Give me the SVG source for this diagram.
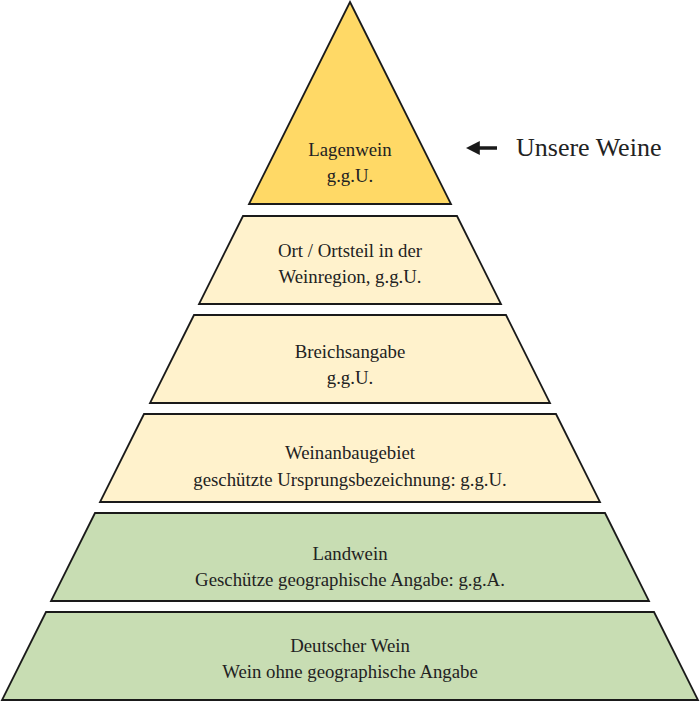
<svg xmlns="http://www.w3.org/2000/svg" width="700" height="703" viewBox="0 0 700 703">
<style>
.lvl{stroke:#1a1a1a;stroke-width:1.8;stroke-linejoin:miter}
.gold{fill:#FFD966}
.cream{fill:#FFF2CC}
.green{fill:#C8DDB3}
text{font-family:"Liberation Serif","Times New Roman",serif;font-size:18.8px;fill:#222;text-anchor:middle}
.note{font-size:26px;text-anchor:start}
</style>
<defs>
<marker id="ah" viewBox="0 0 10 10" refX="2" refY="5" markerWidth="4" markerHeight="4.4" orient="auto-start-reverse" markerUnits="strokeWidth">
<path d="M0,0 L10,5 L0,10 z" fill="#1a1a1a"/>
</marker>
</defs>
<rect width="700" height="703" fill="#fff"/>
<g id="lagenwein">
<polygon class="lvl gold" points="350,2 451,204 249,204"/>
<text x="350" y="156">Lagenwein</text>
<text x="350" y="182">g.g.U.</text>
</g>
<g id="ort">
<polygon class="lvl cream" points="243,216 457,216 501,304 199,304"/>
<text x="350" y="257">Ort / Ortsteil in der</text>
<text x="350" y="283">Weinregion, g.g.U.</text>
</g>
<g id="bereich">
<polygon class="lvl cream" points="194,315 506,315 550,403 150,403"/>
<text x="350" y="358">Breichsangabe</text>
<text x="350" y="384">g.g.U.</text>
</g>
<g id="anbaugebiet">
<polygon class="lvl cream" points="144,414 556,414 600,502 100,502"/>
<text x="350" y="459">Weinanbaugebiet</text>
<text x="350" y="486">geschützte Ursprungsbezeichnung: g.g.U.</text>
</g>
<g id="landwein">
<polygon class="lvl green" points="95,513 605,513 649,601 51,601"/>
<text x="350" y="560">Landwein</text>
<text x="350" y="586">Geschütze geographische Angabe: g.g.A.</text>
</g>
<g id="deutscher">
<polygon class="lvl green" points="46,612 654,612 698,700 2,700"/>
<text x="350" y="652">Deutscher Wein</text>
<text x="350" y="678">Wein ohne geographische Angabe</text>
</g>
<g id="connectors">
<line x1="497" y1="148" x2="477" y2="148" stroke="#1a1a1a" stroke-width="3.5" marker-end="url(#ah)"/>
</g>
<g id="label">
<text class="note" x="516" y="156">Unsere Weine</text>
</g>
</svg>
